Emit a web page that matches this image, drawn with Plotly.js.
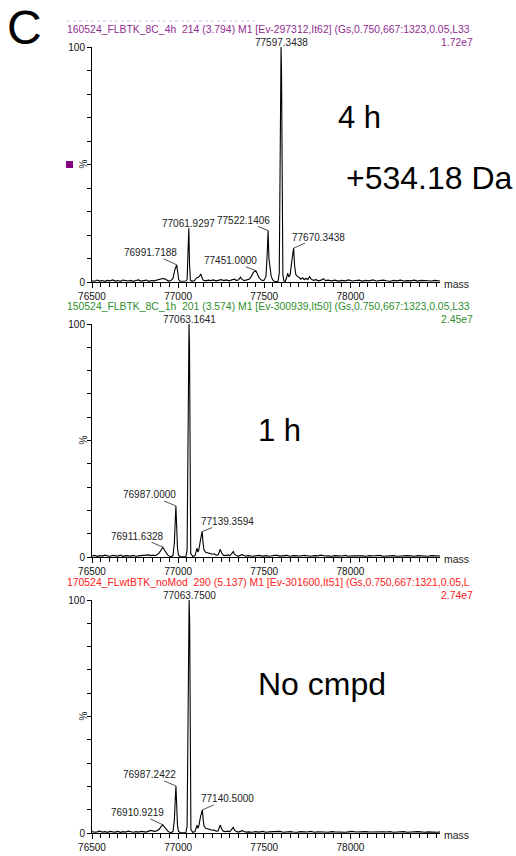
<!DOCTYPE html>
<html>
<head>
<meta charset="utf-8">
<script src="https://cdn.plot.ly/plotly-3.0.1.min.js"></script>
<style>
  html, body { margin: 0; padding: 0; background: #ffffff; }
  #chart { width: 516px; height: 856px; }
</style>
</head>
<body>
<div id="chart"></div>
<script>
// Deconvoluted intact-mass spectra (MaxEnt1), mass in Da vs relative intensity (%)

const massTicks = [76500, 77000, 77500, 78000];
const pctTicks = [0, 10, 20, 30, 40, 50, 60, 70, 80, 90, 100];
const pctTickText = ['0', '', '', '', '', '', '', '', '', '', '100'];

const runTitles = [
  '160524_FLBTK_8C_4h\u00a0 214 (3.794) M1 [Ev-297312,It62] (Gs,0.750,667:1323,0.05,L33',
  '150524_FLBTK_8C_1h\u00a0 201 (3.574) M1 [Ev-300939,It50] (Gs,0.750,667:1323,0.05,L33',
  '170524_FLwtBTK_noMod\u00a0 290 (5.137) M1 [Ev-301600,It51] (Gs,0.750,667:1321,0.05,L'
];
const basePeakIntensity = [1.72e7, 2.45e7, 2.74e7];
const conditionLabels = ['4 h', '1 h', 'No cmpd'];
const massShiftLabel = '+534.18 Da';

// 4 h incubation
const mass4h = [
  76500, 76515, 76530, 76545, 76560, 76575, 76590, 76605, 76620, 76635,
  76650, 76665, 76680, 76695, 76710, 76725, 76740, 76755, 76770, 76785,
  76800, 76815, 76830, 76845, 76860, 76875, 76890, 76905, 76918, 76930,
  76945, 76958, 76970, 76980, 76991.7188, 76997, 77003, 77010, 77030, 77045,
  77052, 77058, 77061.9297, 77066, 77071, 77080, 77095, 77108, 77118, 77125,
  77132, 77138, 77145, 77160, 77175, 77190, 77205, 77220, 77235, 77250,
  77265, 77280, 77295, 77310, 77325, 77340, 77352, 77362, 77372, 77385,
  77400, 77415, 77425, 77438, 77451.0000, 77460, 77470, 77480, 77490, 77500,
  77510, 77517, 77522.1406, 77527, 77533, 77540, 77548, 77558, 77570, 77580,
  77587, 77591, 77594, 77597.3438, 77600, 77603, 77608, 77614, 77622, 77630,
  77636, 77642, 77650, 77660, 77670.3438, 77676, 77683, 77692, 77702, 77712,
  77722, 77732, 77742, 77752, 77763, 77772, 77785, 77800, 77815, 77830,
  77843, 77855, 77870, 77890, 77910, 77930, 77950, 77970, 77990, 78010,
  78030, 78050, 78070, 78090, 78110, 78130, 78150, 78170, 78190, 78210,
  78230, 78250, 78270, 78290, 78310, 78330, 78350, 78370, 78390, 78410,
  78430, 78450, 78470, 78490, 78510, 78520
];
const pct4h = [
  0.5, 0.3, 0.8, 0.4, 0.6, 0.3, 0.7, 0.5, 0.9, 0.4,
  0.6, 0.3, 0.8, 0.5, 0.4, 0.7, 0.3, 0.6, 0.9, 0.4,
  0.5, 0.8, 0.3, 0.6, 0.5, 0.9, 1.1, 1.4, 1.5, 1.0,
  0.4, 0.6, 1.5, 5.0, 7.3, 4.5, 1.0, 0.3, 0.5, 0.4,
  1.0, 12.0, 22.9, 8.0, 0.8, 0.3, 0.6, 1.8, 2.0, 2.6,
  3.4, 2.0, 0.8, 0.5, 0.8, 0.6, 0.9, 0.5, 0.7, 1.0,
  0.6, 0.9, 0.5, 0.7, 1.2, 0.6, 1.0, 2.0, 1.0, 0.6,
  0.8, 1.3, 2.5, 4.2, 4.8, 3.0, 1.8, 1.0, 0.6, 0.8,
  2.5, 12.0, 21.9, 10.0, 5.0, 2.5, 1.0, 0.3, 0.2, 0.3,
  4.0, 40.0, 92.0, 100.0, 90.0, 35.0, 3.0, 0.4, 0.3, 2.0,
  3.8, 2.2, 3.0, 9.0, 14.4, 7.0, 3.2, 2.4, 2.0, 1.2,
  1.8, 1.0, 1.6, 1.0, 2.3, 1.2, 0.7, 1.0, 0.5, 0.8,
  1.4, 0.6, 0.8, 0.5, 0.8, 0.4, 0.7, 0.5, 0.9, 0.4,
  0.6, 0.8, 0.4, 0.7, 0.5, 0.9, 0.4, 0.6, 0.8, 0.5,
  0.3, 0.7, 0.5, 0.8, 0.4, 0.6, 0.5, 0.8, 0.4, 0.7,
  0.5, 0.6, 0.4, 0.7, 0.5, 0.4
];
const peaks4h = [77597.3438, 77061.9297, 77522.1406, 76991.7188, 77451.0000, 77670.3438];

// 1 h incubation
const mass1h = [
  76500, 76515, 76530, 76545, 76560, 76575, 76590, 76605, 76620, 76635,
  76650, 76665, 76680, 76695, 76710, 76725, 76740, 76755, 76770, 76785,
  76800, 76815, 76830, 76840, 76852, 76865, 76878, 76890, 76900, 76911.6328,
  76920, 76930, 76940, 76950, 76960, 76970, 76978, 76983, 76987.0000, 76991,
  76996, 77002, 77012, 77030, 77045, 77052, 77056, 77059, 77063.1641, 77066,
  77069, 77073, 77085, 77098, 77105, 77110, 77114, 77120, 77130, 77135,
  77139.3594, 77144, 77150, 77160, 77170, 77180, 77190, 77200, 77210, 77220,
  77232, 77240, 77245, 77252, 77262, 77275, 77290, 77300, 77310, 77320,
  77327, 77338, 77350, 77362, 77372, 77382, 77395, 77410, 77430, 77450,
  77470, 77490, 77510, 77530, 77550, 77570, 77590, 77610, 77630, 77650,
  77670, 77690, 77710, 77730, 77750, 77770, 77790, 77810, 77830, 77850,
  77870, 77890, 77910, 77930, 77950, 77970, 77990, 78010, 78030, 78050,
  78070, 78090, 78110, 78130, 78150, 78170, 78190, 78210, 78230, 78250,
  78270, 78290, 78310, 78330, 78350, 78370, 78390, 78410, 78430, 78450,
  78470, 78490, 78510, 78520
];
const pct1h = [
  0.4, 0.7, 0.3, 0.6, 0.4, 0.8, 0.5, 0.3, 0.7, 0.5,
  0.4, 0.8, 0.3, 0.6, 0.5, 0.4, 0.7, 0.3, 0.5, 0.6,
  0.4, 0.5, 0.9, 0.6, 0.8, 0.6, 1.0, 1.8, 3.0, 4.2,
  3.0, 1.8, 0.8, 0.3, 0.2, 0.6, 6.0, 15.0, 21.9, 14.0,
  4.0, 0.8, 0.2, 0.1, 0.2, 3.0, 40.0, 92.0, 100.0, 90.0,
  35.0, 1.5, 0.3, 0.6, 2.5, 3.8, 2.2, 3.0, 7.5, 10.0,
  10.9, 6.5, 3.0, 2.0, 1.8, 1.5, 1.6, 1.2, 1.4, 0.8,
  0.9, 2.5, 3.3, 1.8, 0.8, 0.6, 0.9, 0.5, 1.2, 2.3,
  1.2, 0.6, 0.4, 0.6, 1.0, 0.6, 0.4, 0.6, 0.3, 0.5,
  0.7, 0.4, 0.6, 0.3, 0.5, 0.8, 0.4, 0.5, 0.7, 0.3,
  0.6, 0.5, 0.4, 0.7, 0.5, 0.3, 0.6, 0.5, 0.8, 0.4,
  0.5, 0.3, 0.6, 0.5, 0.4, 0.7, 0.3, 0.5, 0.6, 0.4,
  0.5, 0.3, 0.6, 0.4, 0.5, 0.7, 0.3, 0.5, 0.4, 0.6,
  0.3, 0.5, 0.4, 0.6, 0.5, 0.3, 0.6, 0.4, 0.5, 0.3,
  0.6, 0.4, 0.5, 0.4
];
const peaks1h = [77063.1641, 76987.0000, 76911.6328, 77139.3594];

// Unmodified protein, no compound
const massNoCmpd = [
  76500, 76515, 76530, 76545, 76560, 76575, 76590, 76605, 76620, 76635,
  76650, 76665, 76680, 76695, 76710, 76725, 76740, 76755, 76770, 76785,
  76800, 76815, 76830, 76842, 76852, 76865, 76878, 76890, 76900, 76910.9219,
  76920, 76930, 76940, 76950, 76960, 76970, 76978, 76983, 76987.2422, 76991,
  76996, 77002, 77012, 77030, 77045, 77052, 77056, 77060, 77063.7500, 77067,
  77070, 77074, 77085, 77098, 77105, 77110, 77114, 77120, 77130, 77136,
  77140.5000, 77145, 77150, 77160, 77170, 77180, 77190, 77200, 77210, 77220,
  77232, 77240, 77245, 77252, 77262, 77275, 77290, 77300, 77310, 77320,
  77327, 77338, 77350, 77362, 77372, 77382, 77395, 77410, 77430, 77450,
  77470, 77490, 77510, 77530, 77550, 77570, 77590, 77610, 77630, 77650,
  77670, 77690, 77710, 77730, 77750, 77770, 77790, 77810, 77830, 77850,
  77870, 77890, 77910, 77930, 77950, 77970, 77990, 78010, 78030, 78050,
  78070, 78090, 78110, 78130, 78150, 78170, 78190, 78210, 78230, 78250,
  78270, 78290, 78310, 78330, 78350, 78370, 78390, 78410, 78430, 78450,
  78470, 78490, 78510, 78520
];
const pctNoCmpd = [
  0.6, 0.3, 0.5, 0.8, 0.4, 0.6, 0.3, 0.7, 0.5, 0.4,
  0.7, 0.3, 0.6, 0.4, 0.8, 0.5, 0.3, 0.6, 0.4, 0.7,
  0.5, 0.4, 0.8, 1.1, 0.9, 0.7, 1.0, 1.6, 2.6, 3.5,
  2.6, 1.6, 0.8, 0.3, 0.2, 0.6, 5.5, 14.0, 20.2, 13.0,
  3.5, 0.7, 0.2, 0.1, 0.2, 3.0, 40.0, 92.0, 100.0, 90.0,
  35.0, 1.5, 0.3, 0.6, 2.4, 3.4, 2.0, 3.0, 7.0, 9.2,
  9.9, 6.0, 3.0, 2.0, 1.7, 1.5, 1.4, 1.2, 1.3, 0.8,
  0.9, 2.6, 3.4, 1.8, 0.8, 0.6, 0.8, 0.5, 1.3, 2.4,
  1.2, 0.6, 0.4, 0.6, 1.0, 0.6, 0.4, 0.5, 0.3, 0.6,
  0.4, 0.7, 0.3, 0.5, 0.6, 0.4, 0.7, 0.3, 0.5, 0.6,
  0.4, 0.3, 0.6, 0.5, 0.4, 0.7, 0.3, 0.5, 0.6, 0.4,
  0.3, 0.6, 0.5, 0.4, 0.6, 0.3, 0.5, 0.7, 0.4, 0.5,
  0.3, 0.6, 0.4, 0.5, 0.3, 0.6, 0.5, 0.4, 0.6, 0.3,
  0.5, 0.4, 0.6, 0.3, 0.5, 0.4, 0.6, 0.5, 0.3, 0.5,
  0.4, 0.6, 0.3, 0.5
];
const peaksNoCmpd = [77063.7500, 76987.2422, 76910.9219, 77140.5000];

// ---------------------------------------------------------------------------
const W = 516, H = 856;
const px = x => x / W;            // pixel -> paper x
const py = y => 1 - y / H;        // pixel -> paper y

const FONT = 'Liberation Sans, Arial, Helvetica, sans-serif';
const titleColors = ['#912d91', '#2f8f2f', '#ff2020'];

// vertical placement of each panel in pixels: [zero line, 100 % line]
const panelPx = [[282, 47], [557, 324], [833, 600]];
const xDomain = [px(92), px(440)];
const massRange = [76500, 78520];

const panels = [
  { mass: mass4h, pct: pct4h, peaks: peaks4h },
  { mass: mass1h, pct: pct1h, peaks: peaks1h },
  { mass: massNoCmpd, pct: pctNoCmpd, peaks: peaksNoCmpd }
];

// label placement for each peak: [ax, ay] in pixels from apex, or null = centred above
const labelOffsets = [
  [null, null, [-25, -10], [-26, -12], [-25, -10], [25, -11]],
  [null, [-26, -11], [-25, -11], [25, -10]],
  [null, [-26, -11], [-25, -12], [25, -11]]
];

const traces = [];
const annotations = [];
const shapes = [];
const layout = {
  width: W, height: H,
  margin: { l: 0, r: 0, t: 0, b: 0 },
  paper_bgcolor: '#ffffff',
  plot_bgcolor: '#ffffff',
  showlegend: false,
  font: { family: FONT, size: 10, color: '#111111' }
};

panels.forEach((p, i) => {
  const n = i === 0 ? '' : String(i + 1);
  const xa = 'x' + n, ya = 'y' + n;

  traces.push({
    type: 'scatter', mode: 'lines',
    x: p.mass, y: p.pct,
    xaxis: xa, yaxis: ya,
    line: { color: '#000000', width: 1.1 },
    hoverinfo: 'skip'
  });

  layout['xaxis' + n] = {
    domain: xDomain, range: massRange, anchor: ya,
    showline: true, linecolor: '#000000', linewidth: 1,
    showgrid: false, zeroline: false,
    tickmode: 'array', tickvals: massTicks, tickformat: 'd',
    ticks: 'outside', ticklen: 5, tickwidth: 1, tickcolor: '#000000',
    tickfont: { family: FONT, size: 10, color: '#111111' },
    minor: { tickmode: 'linear', tick0: 76500, dtick: 50, ticks: 'outside', ticklen: 4, tickwidth: 1, tickcolor: '#000000', showgrid: false },
    fixedrange: true
  };
  layout['yaxis' + n] = {
    domain: [py(panelPx[i][0]), py(panelPx[i][1])], range: [0, 100], anchor: xa,
    showline: true, linecolor: '#000000', linewidth: 1,
    showgrid: false, zeroline: false,
    tickmode: 'array', tickvals: pctTicks, ticktext: pctTickText,
    ticks: 'outside', ticklen: 4, tickwidth: 1, tickcolor: '#000000',
    tickfont: { family: FONT, size: 10, color: '#111111' },
    fixedrange: true
  };

  const zeroY = panelPx[i][0], topY = panelPx[i][1];

  // run header and base-peak intensity
  annotations.push({
    xref: 'paper', yref: 'paper', x: px(66), y: py(topY - 17.5),
    xanchor: 'left', yanchor: 'middle', showarrow: false, borderpad: 0,
    text: runTitles[i], font: { family: FONT, size: 10.4, color: titleColors[i] }
  });
  annotations.push({
    xref: 'paper', yref: 'paper', x: px(474), y: py(topY - 5),
    xanchor: 'right', yanchor: 'middle', showarrow: false, borderpad: 0,
    text: basePeakIntensity[i].toExponential(2).replace('e+', 'e'),
    font: { family: FONT, size: 10.4, color: titleColors[i] }
  });

  // axis captions
  annotations.push({
    xref: 'paper', yref: 'paper', x: px(442), y: py(zeroY + 2),
    xanchor: 'left', yanchor: 'middle', showarrow: false,
    text: 'mass', font: { family: FONT, size: 10.5, color: '#222222' }
  });
  annotations.push({
    xref: 'paper', yref: 'paper', x: px(83), y: py((zeroY + topY) / 2),
    xanchor: 'center', yanchor: 'middle', showarrow: false, textangle: -90,
    text: '%', font: { family: FONT, size: 10, color: '#222222' }
  });

  // peak labels, drawn at the apex of each labelled peak
  p.peaks.forEach((m, k) => {
    const yv = p.pct[p.mass.indexOf(m)];
    const off = labelOffsets[i][k];
    const a = {
      xref: xa, yref: ya, x: m, y: yv, borderpad: 0,
      text: m.toFixed(4),
      font: { family: FONT, size: 10, color: '#222222' }
    };
    if (off) {
      Object.assign(a, { showarrow: true, arrowhead: 0, arrowwidth: 0.8, arrowcolor: '#222222',
        standoff: 0, ax: off[0], ay: off[1] });
    } else {
      Object.assign(a, { showarrow: false, xanchor: 'center', yanchor: 'bottom', yshift: -2 });
    }
    annotations.push(a);
  });
});

// condition captions
const bigFont = sz => ({ family: FONT, size: sz, color: '#000000' });
annotations.push({ xref: 'paper', yref: 'paper', x: px(336), y: py(118), xanchor: 'left', yanchor: 'middle',
  showarrow: false, text: conditionLabels[0], font: bigFont(31) });
annotations.push({ xref: 'paper', yref: 'paper', x: px(344), y: py(178), xanchor: 'left', yanchor: 'middle',
  showarrow: false, text: massShiftLabel, font: bigFont(32) });
annotations.push({ xref: 'paper', yref: 'paper', x: px(256), y: py(430), xanchor: 'left', yanchor: 'middle',
  showarrow: false, text: conditionLabels[1], font: bigFont(31) });
annotations.push({ xref: 'paper', yref: 'paper', x: px(256), y: py(684), xanchor: 'left', yanchor: 'middle',
  showarrow: false, text: conditionLabels[2], font: bigFont(32) });

// figure panel letter
annotations.push({ xref: 'paper', yref: 'paper', x: px(6), y: 1, xanchor: 'left', yanchor: 'top',
  showarrow: false, borderpad: 0, text: 'C', font: { family: FONT, size: 48, color: '#000000' } });

// small purple marker beside the top panel
shapes.push({ type: 'rect', xref: 'paper', yref: 'paper',
  x0: px(66), x1: px(73), y0: py(168), y1: py(161),
  fillcolor: '#800080', line: { width: 0 } });

// faint dotted remnant line at the very top
shapes.push({ type: 'line', xref: 'paper', yref: 'paper',
  x0: px(67), x1: px(255), y0: py(21), y1: py(21),
  line: { color: '#c4caf2', width: 1, dash: 'dot' } });

layout.annotations = annotations;
layout.shapes = shapes;

Plotly.newPlot('chart', traces, layout, { displayModeBar: false, staticPlot: true });
</script>
</body>
</html>
